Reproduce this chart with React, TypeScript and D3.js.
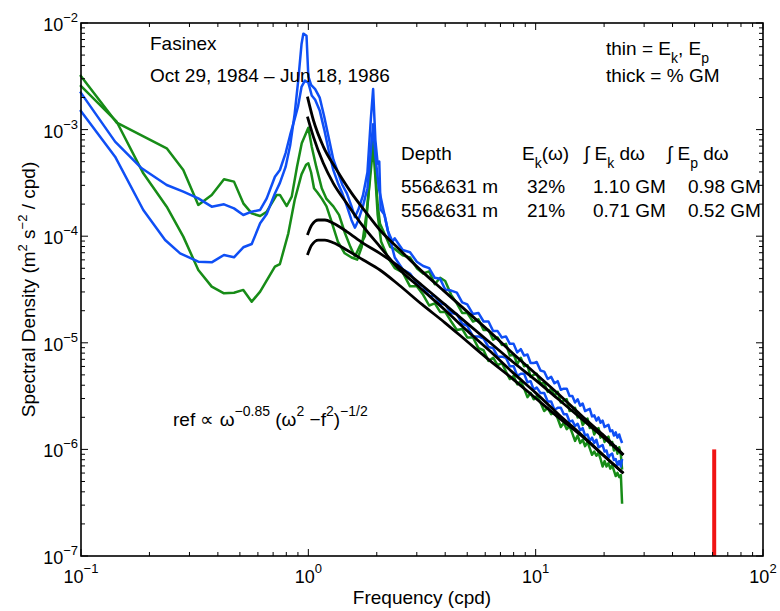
import React from 'react';
import * as d3 from 'd3';

const W = 780;
const H = 611;
const PLOT = { left: 81, right: 763, top: 23, bottom: 556 };

// tick values
const xTickValues = [0.1, 1, 10, 100];
const xTickExps = ['\u22121', '0', '1', '2'];
const yTickValues = [1e-7, 1e-6, 1e-5, 1e-4, 1e-3, 1e-2];
const yTickExps = ['\u22127', '\u22126', '\u22125', '\u22124', '\u22123', '\u22122'];

// ---- low/mid frequency parts (log10 f [cpd], log10 S) ----
const blue1LowLogF = [-1.004, -0.850, -0.726, -0.630, -0.564, -0.484, -0.425, -0.371, -0.327, -0.286, -0.249, -0.212, -0.183, -0.147, -0.125, -0.10, -0.08, -0.06, -0.045, -0.03, -0.022, -0.008, 0.0, 0.012, 0.03, 0.05, 0.07, 0.09, 0.11, 0.13, 0.15, 0.17, 0.19, 0.205, 0.22, 0.24, 0.26, 0.275, 0.285, 0.295, 0.305, 0.312, 0.318, 0.335, 0.35, 0.37];
const blue1LowLogS = [-2.816, -3.254, -3.754, -4.036, -4.161, -4.239, -4.245, -4.176, -4.198, -4.104, -4.073, -3.879, -3.791, -3.60, -3.50, -3.35, -3.15, -2.85, -2.55, -2.20, -2.10, -2.12, -2.50, -2.58, -2.62, -2.70, -2.88, -3.08, -3.28, -3.40, -3.52, -3.60, -3.72, -3.82, -3.75, -3.62, -3.40, -2.90, -2.62, -3.10, -3.32, -3.30, -3.75, -3.80, -3.95, -4.05];

const blue2LowLogF = [-1.004, -0.850, -0.733, -0.623, -0.550, -0.484, -0.425, -0.371, -0.327, -0.286, -0.249, -0.212, -0.183, -0.147, -0.125, -0.10, -0.08, -0.06, -0.045, -0.03, -0.015, 0.0, 0.015, 0.03, 0.05, 0.07, 0.09, 0.11, 0.13, 0.15, 0.17, 0.19, 0.205, 0.22, 0.24, 0.26, 0.275, 0.285, 0.295, 0.31, 0.33, 0.35];
const blue2LowLogS = [-2.644, -3.113, -3.363, -3.520, -3.582, -3.645, -3.723, -3.701, -3.739, -3.801, -3.770, -3.754, -3.645, -3.442, -3.379, -3.22, -3.05, -2.90, -2.78, -2.60, -2.54, -2.56, -2.68, -2.72, -2.82, -3.00, -3.20, -3.38, -3.50, -3.60, -3.72, -3.85, -3.92, -3.85, -3.72, -3.55, -3.20, -2.95, -3.25, -3.55, -3.75, -3.95];

const green1LowLogF = [-1.004, -0.843, -0.623, -0.550, -0.484, -0.425, -0.371, -0.327, -0.286, -0.249, -0.212, -0.183, -0.139, -0.125, -0.095, -0.073, -0.05, -0.029, 0.0, 0.015, 0.035, 0.059, 0.08, 0.11, 0.135, 0.161, 0.185, 0.205, 0.225, 0.249, 0.265, 0.28, 0.288, 0.295, 0.305, 0.315, 0.34, 0.36];
const green1LowLogS = [-2.488, -2.935, -3.176, -3.379, -3.707, -3.613, -3.466, -3.488, -3.692, -3.786, -3.811, -3.770, -3.613, -3.613, -3.717, -3.629, -3.35, -3.129, -2.982, -3.16, -3.35, -3.55, -3.65, -3.72, -3.80, -3.97, -4.10, -4.19, -4.10, -4.00, -3.60, -3.10, -2.99, -3.40, -3.70, -3.88, -4.00, -4.10];

const green2LowLogF = [-1.004, -0.843, -0.726, -0.623, -0.550, -0.484, -0.425, -0.371, -0.327, -0.286, -0.249, -0.212, -0.147, -0.125, -0.088, -0.06, -0.03, -0.01, 0.0, 0.012, 0.025, 0.04, 0.06, 0.08, 0.10, 0.13, 0.16, 0.19, 0.215, 0.235, 0.255, 0.27, 0.285, 0.295, 0.305, 0.32, 0.35];
const green2LowLogS = [-2.582, -2.926, -3.410, -3.723, -4.004, -4.317, -4.473, -4.536, -4.530, -4.504, -4.614, -4.520, -4.286, -4.261, -3.973, -3.66, -3.42, -3.33, -3.316, -3.40, -3.55, -3.59, -3.65, -3.72, -3.85, -4.05, -4.16, -4.20, -4.22, -4.10, -3.80, -3.50, -3.15, -3.45, -3.80, -4.05, -4.20];

// ---- high-frequency parts (f in cpd, log10 S) ----
const hfFreq = [2.4, 2.6, 2.8, 3.0, 3.2, 3.4, 3.6, 3.8, 4.0, 4.25, 4.5, 4.75, 5.0, 5.3, 5.6, 5.9, 6.2, 6.5, 6.8, 7.1, 7.4, 7.7, 8.0, 8.3, 8.6, 8.9, 9.2, 9.5, 9.8, 10.1, 10.5, 10.9, 11.3, 11.7, 12.1, 12.5, 12.9, 13.3, 13.7, 14.1, 14.5, 14.9, 15.3, 15.7, 16.1, 16.5, 16.9, 17.3, 17.7, 18.1, 18.5, 18.9, 19.3, 19.7, 20.1, 20.5, 20.9, 21.3, 21.7, 22.1, 22.5, 22.9, 23.3, 23.7, 24.0];
const blue1HfLogS = [-4.02, -4.13, -4.15, -4.24, -4.28, -4.30, -4.39, -4.40, -4.50, -4.51, -4.53, -4.62, -4.64, -4.73, -4.72, -4.80, -4.80, -4.89, -4.89, -4.95, -4.94, -5.01, -5.01, -5.09, -5.06, -5.12, -5.11, -5.19, -5.19, -5.18, -5.26, -5.27, -5.34, -5.32, -5.38, -5.36, -5.44, -5.43, -5.43, -5.50, -5.50, -5.56, -5.53, -5.59, -5.57, -5.64, -5.63, -5.62, -5.69, -5.68, -5.73, -5.70, -5.75, -5.73, -5.79, -5.78, -5.77, -5.83, -5.82, -5.87, -5.84, -5.89, -5.86, -5.91, -5.94];
const green1HfLogS = [-4.12, -4.18, -4.20, -4.30, -4.35, -4.33, -4.45, -4.39, -4.42, -4.55, -4.63, -4.72, -4.72, -4.80, -4.78, -4.88, -4.88, -4.97, -4.95, -5.02, -5.01, -5.12, -5.11, -5.20, -5.14, -5.22, -5.21, -5.32, -5.30, -5.29, -5.38, -5.38, -5.46, -5.43, -5.50, -5.46, -5.56, -5.54, -5.53, -5.64, -5.63, -5.61, -5.70, -5.68, -5.77, -5.74, -5.71, -5.80, -5.78, -5.86, -5.82, -5.80, -5.89, -5.86, -5.93, -5.90, -5.88, -5.96, -5.93, -6.01, -5.97, -6.04, -5.98, -6.05, -6.19];
const blue2HfLogS = [-4.20, -4.31, -4.35, -4.44, -4.47, -4.56, -4.56, -4.63, -4.64, -4.72, -4.73, -4.82, -4.84, -4.94, -4.94, -4.96, -5.04, -5.05, -5.13, -5.13, -5.14, -5.22, -5.22, -5.31, -5.29, -5.29, -5.37, -5.36, -5.44, -5.42, -5.47, -5.47, -5.55, -5.55, -5.63, -5.61, -5.61, -5.67, -5.67, -5.74, -5.73, -5.78, -5.76, -5.82, -5.80, -5.87, -5.86, -5.92, -5.89, -5.94, -5.91, -5.98, -5.97, -5.96, -6.02, -6.01, -6.08, -6.05, -6.04, -6.10, -6.09, -6.15, -6.11, -6.16, -6.09];
const green2HfLogS = [-4.30, -4.34, -4.47, -4.47, -4.55, -4.65, -4.63, -4.71, -4.71, -4.80, -4.88, -4.87, -4.95, -4.95, -5.05, -5.07, -5.17, -5.14, -5.21, -5.19, -5.27, -5.34, -5.31, -5.39, -5.36, -5.43, -5.51, -5.47, -5.53, -5.50, -5.56, -5.64, -5.61, -5.67, -5.65, -5.71, -5.79, -5.75, -5.81, -5.78, -5.85, -5.92, -5.87, -5.94, -5.91, -5.97, -5.93, -5.99, -6.05, -6.02, -6.06, -6.03, -6.09, -6.16, -6.11, -6.16, -6.13, -6.18, -6.15, -6.20, -6.25, -6.22, -6.26, -6.24, -6.51];

// ---- reference (GM-type) curves (log10 f, log10 S) ----
const ref1LogF = [-0.004, 0.022, 0.066, 0.125, 0.191, 0.257, 0.315, 0.403, 0.5, 0.6, 0.7, 0.8, 0.9, 1.0, 1.1, 1.2, 1.3, 1.386];
const ref1LogS = [-2.691, -2.910, -3.160, -3.379, -3.598, -3.785, -3.942, -4.129, -4.33, -4.52, -4.71, -4.90, -5.10, -5.29, -5.48, -5.68, -5.87, -6.05];
const ref2LogF = [-0.004, 0.022, 0.066, 0.110, 0.169, 0.242, 0.315, 0.389, 0.5, 0.6, 0.7, 0.8, 0.9, 1.0, 1.1, 1.2, 1.3, 1.386];
const ref2LogS = [-2.879, -3.066, -3.316, -3.504, -3.692, -3.911, -4.098, -4.286, -4.50, -4.69, -4.89, -5.08, -5.28, -5.47, -5.67, -5.86, -6.06, -6.224];
const ref3LogF = [-0.004, 0.015, 0.044, 0.073, 0.110, 0.169, 0.242, 0.315, 0.389, 0.5, 0.6, 0.7, 0.8, 0.9, 1.0, 1.1, 1.2, 1.3, 1.386];
const ref3LogS = [-3.989, -3.895, -3.848, -3.848, -3.879, -3.957, -4.067, -4.161, -4.270, -4.46, -4.64, -4.82, -5.00, -5.18, -5.35, -5.53, -5.71, -5.89, -6.053];
const ref4LogF = [-0.004, 0.015, 0.044, 0.073, 0.110, 0.169, 0.242, 0.315, 0.4, 0.5, 0.6, 0.7, 0.8, 0.9, 1.0, 1.1, 1.2, 1.3, 1.386];
const ref4LogS = [-4.176, -4.083, -4.036, -4.036, -4.061, -4.129, -4.223, -4.317, -4.46, -4.64, -4.81, -4.99, -5.17, -5.34, -5.52, -5.70, -5.87, -6.06, -6.224];

// buoyancy frequency marker
const nMarkerFreq = 61;
const nMarkerRange = [1e-7, 1e-6];

const BLUE = '#0f4ff5';
const GREEN = '#178c17';
const FONT = '"Liberation Sans", Arial, Helvetica, sans-serif';

type Pt = [number, number];

function joinSeries(lf: number[], ls: number[], hf: number[], hs: number[]): Pt[] {
  const a: Pt[] = lf.map((v, i) => [Math.pow(10, v), Math.pow(10, ls[i])]);
  const b: Pt[] = hf.map((v, i) => [v, Math.pow(10, hs[i])]);
  return a.concat(b);
}
function logSeries(lf: number[], ls: number[]): Pt[] {
  return lf.map((v, i) => [Math.pow(10, v), Math.pow(10, ls[i])]);
}

export default function App() {
  const x = d3.scaleLog().domain([0.1, 100]).range([PLOT.left, PLOT.right]);
  const y = d3.scaleLog().domain([1e-7, 1e-2]).range([PLOT.bottom, PLOT.top]);

  const line = d3.line<Pt>().x(d => x(d[0])).y(d => y(d[1]));
  const smooth = d3.line<Pt>().x(d => x(d[0])).y(d => y(d[1])).curve(d3.curveMonotoneX);

  const colored = [
    { pts: joinSeries(green1LowLogF, green1LowLogS, hfFreq, green1HfLogS), c: GREEN },
    { pts: joinSeries(green2LowLogF, green2LowLogS, hfFreq, green2HfLogS), c: GREEN },
    { pts: joinSeries(blue2LowLogF, blue2LowLogS, hfFreq, blue2HfLogS), c: BLUE },
    { pts: joinSeries(blue1LowLogF, blue1LowLogS, hfFreq, blue1HfLogS), c: BLUE },
  ];
  const refs = [
    logSeries(ref1LogF, ref1LogS),
    logSeries(ref2LogF, ref2LogS),
    logSeries(ref3LogF, ref3LogS),
    logSeries(ref4LogF, ref4LogS),
  ];

  const xMinor: number[] = [];
  for (let e = -1; e < 2; e++) for (let k = 2; k <= 9; k++) xMinor.push(k * Math.pow(10, e));
  const yMinor: number[] = [];
  for (let e = -7; e < -2; e++) for (let k = 2; k <= 9; k++) yMinor.push(k * Math.pow(10, e));

  const MAJ = 7;
  const MIN = 4;
  const tickStroke = { stroke: '#000', strokeWidth: 1 };

  return (
    <svg width={W} height={H} style={{ position: 'absolute', left: 0, top: 0, background: '#fff' }} fontFamily={FONT}>
      <rect x={0} y={0} width={W} height={H} fill="#fff" />
      <g fill="none" strokeLinejoin="round" strokeLinecap="butt">
        {colored.map((s, i) => (
          <path key={i} d={line(s.pts) || ''} stroke={s.c} strokeWidth={2.5} />
        ))}
        {refs.map((r, i) => (
          <path key={'r' + i} d={smooth(r) || ''} stroke="#000" strokeWidth={2.8} />
        ))}
        <line x1={x(nMarkerFreq)} x2={x(nMarkerFreq)} y1={y(nMarkerRange[0])} y2={y(nMarkerRange[1])} stroke="#f01414" strokeWidth={4} />
      </g>

      <g>
        {xTickValues.map((v, i) => (
          <g key={'xt' + i}>
            <line x1={x(v)} x2={x(v)} y1={PLOT.bottom} y2={PLOT.bottom - MAJ} {...tickStroke} />
            <line x1={x(v)} x2={x(v)} y1={PLOT.top} y2={PLOT.top + MAJ} {...tickStroke} />
          </g>
        ))}
        {xMinor.map((v, i) => (
          <g key={'xm' + i}>
            <line x1={x(v)} x2={x(v)} y1={PLOT.bottom} y2={PLOT.bottom - MIN} {...tickStroke} />
            <line x1={x(v)} x2={x(v)} y1={PLOT.top} y2={PLOT.top + MIN} {...tickStroke} />
          </g>
        ))}
        {yTickValues.map((v, i) => (
          <g key={'yt' + i}>
            <line x1={PLOT.left} x2={PLOT.left + MAJ} y1={y(v)} y2={y(v)} {...tickStroke} />
            <line x1={PLOT.right} x2={PLOT.right - MAJ} y1={y(v)} y2={y(v)} {...tickStroke} />
          </g>
        ))}
        {yMinor.map((v, i) => (
          <g key={'ym' + i}>
            <line x1={PLOT.left} x2={PLOT.left + MIN} y1={y(v)} y2={y(v)} {...tickStroke} />
            <line x1={PLOT.right} x2={PLOT.right - MIN} y1={y(v)} y2={y(v)} {...tickStroke} />
          </g>
        ))}
      </g>
      <rect x={PLOT.left} y={PLOT.top} width={PLOT.right - PLOT.left} height={PLOT.bottom - PLOT.top} fill="none" stroke="#000" strokeWidth={1.6} />

      <g fontSize={18} fill="#000">
        {xTickValues.map((v, i) => (
          <text key={'xl' + i} x={x(v)} y={583} textAnchor="middle">
            10<tspan dy={-10} fontSize={13}>{xTickExps[i]}</tspan>
          </text>
        ))}
        {yTickValues.map((v, i) => (
          <text key={'yl' + i} x={78} y={y(v) + 8} textAnchor="end">
            10<tspan dy={-9} fontSize={13}>{yTickExps[i]}</tspan>
          </text>
        ))}
      </g>

      <text x={(PLOT.left + PLOT.right) / 2} y={604} textAnchor="middle" fontSize={19}>Frequency (cpd)</text>
      <text transform={`translate(35, ${(PLOT.top + PLOT.bottom) / 2}) rotate(-90)`} textAnchor="middle" fontSize={19}>
        Spectral Density (m<tspan dy={-8} fontSize={13}>2</tspan>
        <tspan dy={8}> s</tspan><tspan dy={-8} fontSize={13}>{'\u22122'}</tspan>
        <tspan dy={8}> / cpd)</tspan>
      </text>

      <g fontSize={19} fill="#000">
        <text x={150} y={50}>Fasinex</text>
        <text x={150} y={82}>Oct 29, 1984 {'\u2013'} Jun 18, 1986</text>

        <text x={606} y={55}>thin = E<tspan dy={8} fontSize={14}>k</tspan><tspan dy={-8}>, E</tspan><tspan dy={8} fontSize={14}>p</tspan></text>
        <text x={606} y={82}>thick = % GM</text>

        <text x={401} y={160}>Depth</text>
        <text x={522} y={160}>E<tspan dy={8} fontSize={14}>k</tspan><tspan dy={-8}>(ω)</tspan></text>
        <text x={584} y={160}>{'\u222B'} E<tspan dy={8} fontSize={14}>k</tspan><tspan dy={-8}> dω</tspan></text>
        <text x={667} y={160}>{'\u222B'} E<tspan dy={8} fontSize={14}>p</tspan><tspan dy={-8}> dω</tspan></text>

        <text x={401} y={193}>556&amp;631 m</text>
        <text x={527} y={193}>32%</text>
        <text x={593} y={193}>1.10 GM</text>
        <text x={688} y={193}>0.98 GM</text>

        <text x={401} y={217}>556&amp;631 m</text>
        <text x={527} y={217}>21%</text>
        <text x={593} y={217}>0.71 GM</text>
        <text x={688} y={217}>0.52 GM</text>

        <text x={173} y={426}>
          ref {'\u221D'} ω<tspan dy={-10} fontSize={14}>{'\u2212'}0.85</tspan>
          <tspan dy={10}> (ω</tspan><tspan dy={-10} fontSize={14}>2</tspan>
          <tspan dy={10}> {'\u2212'}f</tspan><tspan dy={-10} fontSize={14}>2</tspan>
          <tspan dy={10}>)</tspan><tspan dy={-10} fontSize={14}>{'\u2212'}1/2</tspan>
        </text>
      </g>
    </svg>
  );
}
